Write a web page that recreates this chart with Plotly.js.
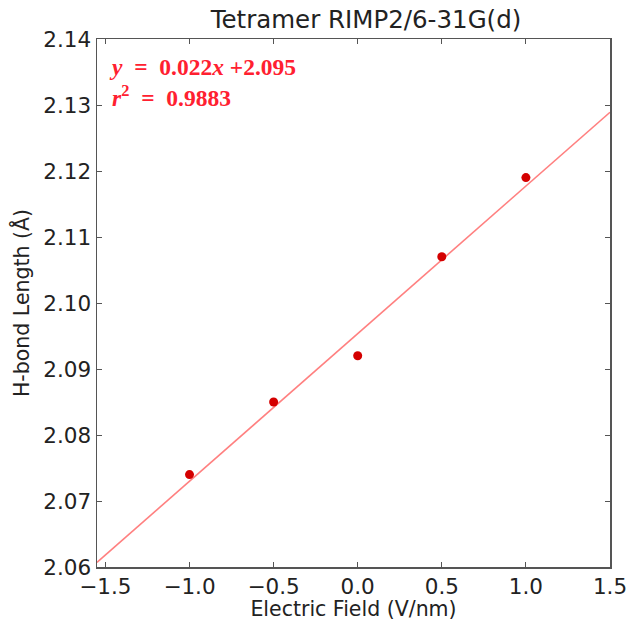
<!DOCTYPE html>
<html><head><meta charset="utf-8">
<script src="https://cdn.plot.ly/plotly-3.0.1.min.js"></script>
<style>body{margin:0;background:#fff}#c{width:631px;height:621px}</style>
</head><body><div id="c"></div>
<script>
const fieldX = [-1.0, -0.5, 0.0, 0.5, 1.0];
const hbondY = [2.074, 2.085, 2.092, 2.107, 2.119];
const fitX = [-1.55, 1.5];
const fitY = [2.0607, 2.1289];
const xTicks = [-1.5, -1.0, -0.5, 0.0, 0.5, 1.0, 1.5];
const xTickText = ['\u22121.5', '\u22121.0', '\u22120.5', '0.0', '0.5', '1.0', '1.5'];
const yTicks = [2.06, 2.07, 2.08, 2.09, 2.10, 2.11, 2.12, 2.13, 2.14];
const yTickText = ['2.06', '2.07', '2.08', '2.09', '2.10', '2.11', '2.12', '2.13', '2.14'];

const traces = [
  {x: fitX, y: fitY, mode: 'lines', line: {color: '#ff8080', width: 1.6}, hoverinfo: 'skip'},
  {x: fieldX, y: hbondY, mode: 'markers', marker: {color: '#d40000', size: 9}}
];
const axisCommon = {
  showgrid: false, zeroline: false, showline: true, linecolor: '#555', linewidth: 1.5,
  mirror: 'ticks', ticks: 'inside', ticklen: 5, tickcolor: '#555',
  tickfont: {family: 'DejaVu Sans', size: 21.5, color: '#222'}
};
const layout = {
  width: 631, height: 621,
  margin: {l: 97, r: 21, t: 39, b: 54},
  showlegend: false,
  paper_bgcolor: '#fff', plot_bgcolor: '#fff',
  title: {text: 'Tetramer RIMP2/6-31G(d)', font: {family: 'DejaVu Sans', size: 24.5, color: '#222'}, x: 0.58, xanchor: 'center', y: 0.983, yanchor: 'top'},
  xaxis: Object.assign({}, axisCommon, {range: [-1.55, 1.5], tickvals: xTicks, ticktext: xTickText,
    title: {text: 'Electric Field (V/nm)', font: {family: 'DejaVu Sans', size: 20.5, color: '#222'}, standoff: 1}}),
  yaxis: Object.assign({}, axisCommon, {range: [2.06, 2.14], tickvals: yTicks, ticktext: yTickText,
    title: {text: 'H-bond Length (Å)', font: {family: 'DejaVu Sans', size: 20.5, color: '#222'}, standoff: 8}}),
  annotations: [
    {xref: 'paper', yref: 'paper', x: 0.02, y: 0.975, xanchor: 'left', yanchor: 'top', showarrow: false, align: 'left',
     text: '<b><i>y</i>\u00a0\u00a0=\u00a0\u00a00.022<i>x</i>\u00a0+2.095<br><i>r</i><sup>2</sup>\u00a0\u00a0=\u00a0\u00a00.9883</b>',
     font: {family: 'Liberation Serif', size: 23.5, color: '#ff2030'}}
  ]
};
Plotly.newPlot('c', traces, layout, {displayModeBar: false, staticPlot: true});
</script></body></html>
